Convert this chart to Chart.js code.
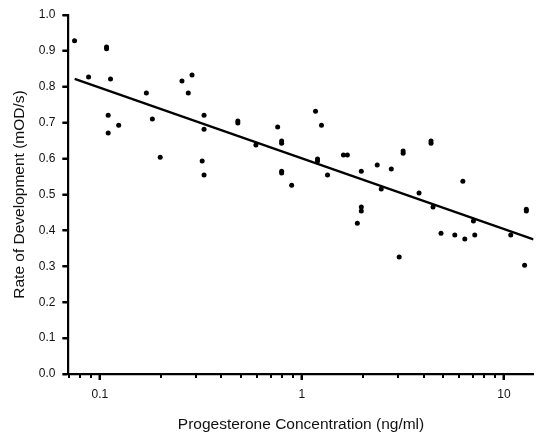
<!DOCTYPE html>
<html><head><meta charset="utf-8">
<script src="https://cdn.jsdelivr.net/npm/chart.js@4"></script>
<style>html,body{margin:0;padding:0;background:#fff}#wrap{width:536px;height:434px}</style>
</head><body><div id="wrap"><canvas id="c" width="536" height="434"></canvas></div>
<script>
const concentration = [0.075,0.088,0.108,0.108,0.113,0.110,0.124,0.110,0.170,0.182,
  0.199,0.255,0.286,0.274,0.328,0.328,0.321,0.328,0.482,0.482,
  0.592,0.759,0.794,0.794,0.794,0.794,0.890,1.168,1.250,1.195,
  1.195,1.339,1.605,1.679,1.881,1.968,1.968,1.968,2.36,2.47,
  2.77,3.17,3.17,3.03,3.80,4.355,4.355,4.456,4.88,5.71,
  6.26,6.40,7.17,7.06,10.8,12.9,12.9,12.65];
const rate = [0.928,0.827,0.911,0.906,0.822,0.721,0.693,0.671,0.783,0.710,
  0.604,0.816,0.833,0.783,0.721,0.682,0.593,0.554,0.705,0.699,
  0.638,0.688,0.649,0.643,0.565,0.560,0.526,0.732,0.693,0.599,
  0.593,0.554,0.610,0.610,0.420,0.565,0.465,0.454,0.582,0.515,
  0.571,0.621,0.615,0.326,0.504,0.649,0.643,0.465,0.392,0.387,
  0.537,0.376,0.387,0.426,0.387,0.459,0.454,0.303];
const fitX = [0.0751, 14];
const fitY = [0.822, 0.375];
const xMajorTicks = [0.1, 1, 10];
const xMinorTicks = [0.07,0.08,0.09,0.2,0.3,0.4,0.5,0.6,0.7,0.8,0.9,2,3,4,5,6,7,8,9];
const yTicks = [0,0.1,0.2,0.3,0.4,0.5,0.6,0.7,0.8,0.9,1.0];
const xLabels = ['0.1','1','10'];

const FONT = "'Liberation Sans', Arial, sans-serif";
const scatterPts = concentration.map((x,i)=>({x:x, y:rate[i]}));
const fitPts = fitX.map((x,i)=>({x:x, y:fitY[i]}));

const tickPlugin = {
  id:'axisTicks',
  afterDraw(chart){
    const xs = chart.scales.x, ys = chart.scales.y, ctx = chart.ctx;
    const b = chart.chartArea.bottom, l = chart.chartArea.left;
    ctx.save();
    ctx.strokeStyle = '#000';
    ctx.lineWidth = 2;
    xMinorTicks.forEach(v=>{
      const px = Math.round(xs.getPixelForValue(v));
      ctx.beginPath(); ctx.moveTo(px, b); ctx.lineTo(px, b + 4); ctx.stroke();
    });
    xMajorTicks.forEach(v=>{
      const px = Math.round(xs.getPixelForValue(v));
      ctx.beginPath(); ctx.moveTo(px, b); ctx.lineTo(px, b + 6); ctx.stroke();
    });
    yTicks.forEach(v=>{
      const py = Math.round(ys.getPixelForValue(v));
      ctx.beginPath(); ctx.moveTo(l, py); ctx.lineTo(l - 6, py); ctx.stroke();
    });
    ctx.restore();
  }
};

new Chart(document.getElementById('c'), {
  type:'scatter',
  data:{datasets:[
    {type:'scatter', data:scatterPts, backgroundColor:'#000', borderColor:'#000', borderWidth:0, pointRadius:2.5, pointHoverRadius:2.5},
    {type:'line', data:fitPts, borderColor:'#000', borderWidth:2.2, pointRadius:0, fill:false, tension:0}
  ]},
  options:{
    responsive:false, animation:false, devicePixelRatio:1,
    layout:{padding:{top:15, right:0, left:0, bottom:0}},
    plugins:{legend:{display:false}, tooltip:{enabled:false}},
    scales:{
      x:{
        type:'logarithmic', min:0.07, max:14, position:'bottom',
        afterBuildTicks(s){ s.ticks = xMajorTicks.map(v=>({value:v})); },
        afterFit(s){ s.height = 60; },
        ticks:{autoSkip:false, maxRotation:0, minRotation:0, padding:7, color:'#111',
          font:{family:FONT, size:12},
          callback:(v)=>{ const i = xMajorTicks.indexOf(v); return i>=0 ? xLabels[i] : ''; }},
        grid:{drawOnChartArea:false, drawTicks:true, tickLength:6, tickWidth:2, tickColor:'#000'},
        border:{display:true, width:2.2, color:'#000'},
        title:{display:true, text:'Progesterone Concentration (ng/ml)', color:'#111',
          font:{family:FONT, size:15.5}, padding:{top:0, bottom:0}}
      },
      y:{
        type:'linear', min:0, max:1,
        afterBuildTicks(s){ s.ticks = yTicks.map(v=>({value:v})); },
        afterFit(s){ s.width = 68.5; },
        ticks:{autoSkip:false, padding:7, color:'#111', font:{family:FONT, size:12},
          callback:(v)=>Number(v).toFixed(1)},
        grid:{drawOnChartArea:false, drawTicks:true, tickLength:6, tickWidth:2, tickColor:'#000'},
        border:{display:true, width:2.2, color:'#000'},
        title:{display:true, text:'Rate of Development (mOD/s)', color:'#111',
          font:{family:FONT, size:15.5}, padding:{top:10, bottom:0}}
      }
    }
  },
  plugins:[tickPlugin]
});
</script>
</body></html>
